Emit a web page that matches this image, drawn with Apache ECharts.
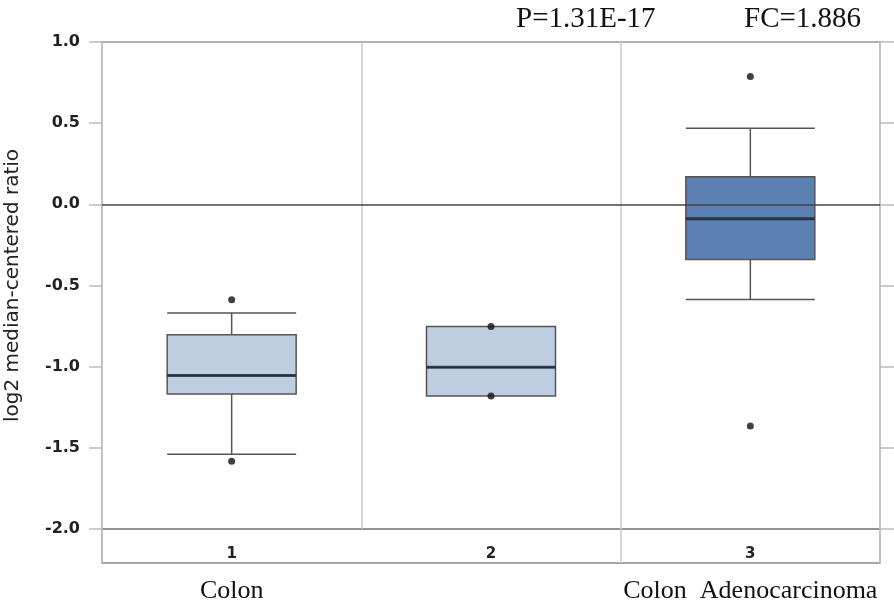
<!DOCTYPE html>
<html>
<head>
<meta charset="utf-8">
<script src="https://cdn.jsdelivr.net/npm/echarts@6/dist/echarts.min.js"></script>
<style>html,body{margin:0;padding:0;background:#fff}#c{width:894px;height:601px}</style>
</head>
<body>
<div id="c"></div>
<script>
// ---- data ----
const categories = ['Colon', 'Rectum', 'Colon  Adenocarcinoma'];
const indexLabels = ['1', '2', '3'];
// [lower whisker, Q1, median, Q3, upper whisker]
const colonBox = [-1.539, -1.169, -1.055, -0.804, -0.670];
const rectumBox = [-1.180, -1.180, -1.003, -0.753, -0.753];
const adenoBox = [-0.587, -0.340, -0.089, 0.170, 0.469];
const outliers = [[0, -0.588], [0, -1.582], [1, -0.753], [1, -1.180], [2, 0.787], [2, -1.365]];
const yTicks = { min: -2, max: 1, step: 0.5 };
const pText = 'P=1.31E-17';
const fcText = 'FC=1.886';
const boxColors = ['#bfcde0', '#bfcde0', '#5b80b2'];

const boxes = [colonBox, rectumBox, adenoBox];
const chart = echarts.init(document.getElementById('c'), null, { renderer: 'canvas' });
const serif = '"Liberation Serif", "DejaVu Serif", serif';
const sans = '"DejaVu Sans", sans-serif';

chart.setOption({
  animation: false,
  backgroundColor: '#fff',
  title: [
    { text: pText, left: 516, top: 5, padding: 0,
      textStyle: { fontFamily: serif, fontSize: 29, fontWeight: 'normal', color: '#111' } },
    { text: fcText, left: 744, top: 5, padding: 0,
      textStyle: { fontFamily: serif, fontSize: 29, fontWeight: 'normal', color: '#111' } }
  ],
  grid: [
    { left: 102, top: 42, width: 778, height: 487, show: true, borderColor: '#999', borderWidth: 1.5,
      backgroundColor: 'transparent', containLabel: false, outerBoundsMode: 'none' },
    { left: 102, top: 529, width: 778, height: 34, show: true, borderColor: '#888', borderWidth: 1.5,
      backgroundColor: 'transparent', containLabel: false, outerBoundsMode: 'none' }
  ],
  xAxis: [
    { gridIndex: 0, type: 'category', data: indexLabels, position: 'bottom',
      axisLine: { show: false }, axisTick: { show: false },
      axisLabel: { margin: 18, fontFamily: sans, fontWeight: 'bold', fontSize: 15, color: '#222' },
      splitLine: { show: true, lineStyle: { color: '#c8c8c8', width: 1.5 } } },
    { gridIndex: 1, type: 'category', data: categories, position: 'bottom',
      axisLine: { show: false }, axisTick: { show: false },
      axisLabel: { margin: 15, fontFamily: serif, fontSize: 26, color: '#111' },
      splitLine: { show: true, lineStyle: { color: '#c8c8c8', width: 1.5 } } }
  ],
  yAxis: [
    { gridIndex: 0, type: 'value', min: yTicks.min, max: yTicks.max, interval: yTicks.step,
      axisLine: { show: false },
      axisTick: { show: true, length: 13, lineStyle: { color: '#bbb', width: 1.5 } },
      axisLabel: { margin: 22, fontFamily: sans, fontWeight: 'bold', fontSize: 16, color: '#222',
        formatter: v => v.toFixed(1) },
      splitLine: { show: false },
      name: 'log2 median-centered ratio', nameLocation: 'middle', nameGap: 79, nameRotate: 90,
      nameTextStyle: { fontFamily: sans, fontSize: 20, color: '#222' } },
    { gridIndex: 0, type: 'value', position: 'right', min: yTicks.min, max: yTicks.max, interval: yTicks.step,
      axisLine: { show: false },
      axisTick: { show: true, length: 14, lineStyle: { color: '#bbb', width: 1.5 } },
      axisLabel: { show: false }, splitLine: { show: false } },
    { gridIndex: 1, type: 'value', show: false }
  ],
  series: [
    { type: 'boxplot', xAxisIndex: 0, yAxisIndex: 0, boxWidth: [129, 129],
      itemStyle: { borderColor: '#555', borderWidth: 1.5 },
      data: boxes.map((b, i) => ({ value: b, itemStyle: { color: boxColors[i], borderColor: '#555' } })),
      markLine: { silent: true, symbol: 'none', z: 10, label: { show: false },
        lineStyle: { color: '#444', width: 1.5, type: 'solid' },
        data: [{ yAxis: 0 }] } },
    { type: 'scatter', xAxisIndex: 0, yAxisIndex: 0, symbol: 'rect', symbolSize: [129, 3], z: 5,
      itemStyle: { color: '#1d2633' },
      data: boxes.map((b, i) => [i, b[2]]) },
    { type: 'scatter', xAxisIndex: 0, yAxisIndex: 0, symbol: 'circle', symbolSize: 7, z: 6,
      itemStyle: { color: '#111' },
      data: outliers }
  ]
});
</script>
</body>
</html>
